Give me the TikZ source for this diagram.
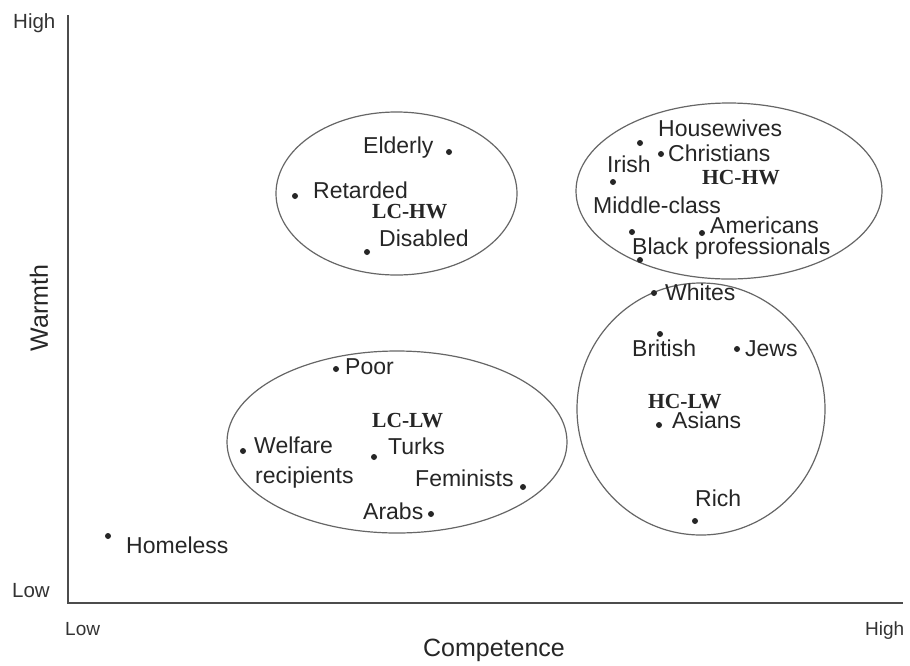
\documentclass[tikz,border=0pt]{standalone}
\usepackage{fontspec}
\setmainfont{Liberation Sans}
\newfontfamily\grpfont{Liberation Serif}
\begin{document}
\begin{tikzpicture}[x=1pt,y=-1pt,
  lbl/.style={font=\fontsize{23}{26}\selectfont, text=black!85, inner sep=0pt, text height=0.72em, text depth=0pt, anchor=west, yshift=-3pt},
  grp/.style={font=\grpfont\bfseries\fontsize{21.5}{24}\selectfont, text=black!85, inner sep=0pt, text height=0.66em, text depth=0pt, anchor=west, yshift=-3pt},
  tick/.style={font=\fontsize{20.5}{24}\selectfont, text=black!80, inner sep=0pt, text height=0.72em, text depth=0pt, anchor=west, yshift=-2pt},
  axtitle/.style={font=\fontsize{25}{28}\selectfont, text=black!85, inner sep=0pt},
  dot/.style={circle, fill=black!85, inner sep=0pt, minimum size=6pt},
  ring/.style={draw=black!60, line width=1.2pt},
  axis/.style={draw=black!70, line width=1.6pt}]
\useasboundingbox (0,0) rectangle (910,665);
\fill[white] (0,0) rectangle (910,665);

% axes
\coordinate (ytop) at (68,15);
\coordinate (origin) at (68,603);
\coordinate (xend) at (903,603);
\draw[axis] (ytop) -- (origin) -- (xend);

\node[tick] (yhigh) at (13,23) {High};
\node[tick] (ylow) at (12,592) {Low};
\node[tick, font=\fontsize{19}{22}\selectfont] (xlow) at (65,630) {Low};
\node[tick, font=\fontsize{19}{22}\selectfont] (xhigh) at (865,630) {High};
\node[axtitle] (xtitle) at (494,650) {Competence};
\node[axtitle, rotate=90] (ytitle) at (39,308) {Warmth};

% clusters
\draw[ring] (396.5,193.5) ellipse [x radius=120.5pt, y radius=81.5pt];
\draw[ring] (729,191) ellipse [x radius=153pt, y radius=88pt];
\draw[ring] (701,409) ellipse [x radius=124pt, y radius=126pt];
\draw[ring] (397,442) ellipse [x radius=170pt, y radius=91pt];

% LC-HW
\node[dot] (elderlyd) at (449,152) {};
\node[lbl] (elderly) at (363,147) {Elderly};
\node[dot] (retardedd) at (295,196) {};
\node[lbl] (retarded) at (313,192) {Retarded};
\node[grp] (lchw) at (372,212) {LC-HW};
\node[dot] (disabledd) at (367,252) {};
\node[lbl] (disabled) at (379,240) {Disabled};

% HC-HW
\node[lbl] (housewives) at (658,130) {Housewives};
\node[dot] (housewivesd) at (640,143) {};
\node[dot] (christiansd) at (661,154) {};
\node[lbl] (christians) at (668,155) {Christians};
\node[lbl] (irish) at (607,166) {Irish};
\node[dot] (irishd) at (613,182) {};
\node[grp] (hchw) at (702,178) {HC-HW};
\node[lbl] (middle) at (593,207) {Middle-class};
\node[dot] (middled) at (632,232) {};
\node[dot] (americansd) at (702,233) {};
\node[lbl] (americans) at (710,227) {Americans};
\node[lbl] (blackprof) at (632,248) {Black professionals};
\node[dot] (blackprofd) at (640,260) {};

% HC-LW
\node[dot] (whitesd) at (654,293) {};
\node[lbl] (whites) at (665,294) {Whites};
\node[dot] (britishd) at (660,334) {};
\node[lbl] (british) at (632,350) {British};
\node[dot] (jewsd) at (737,349) {};
\node[lbl] (jews) at (745,350) {Jews};
\node[grp] (hclw) at (648,402) {HC-LW};
\node[dot] (asiansd) at (659,425) {};
\node[lbl] (asians) at (672,422) {Asians};
\node[lbl] (rich) at (695,500) {Rich};
\node[dot] (richd) at (695,521) {};

% LC-LW
\node[dot] (poord) at (336,369) {};
\node[lbl] (poor) at (345,368) {Poor};
\node[grp] (lclw) at (372,421) {LC-LW};
\node[dot] (welfared) at (243,451) {};
\node[lbl] (welfare) at (254,447) {Welfare};
\node[lbl] (recipients) at (255,477) {recipients};
\node[dot] (turksd) at (374,457) {};
\node[lbl] (turks) at (388,448) {Turks};
\node[lbl] (feminists) at (415,480) {Feminists};
\node[dot] (feministsd) at (523,487) {};
\node[lbl] (arabs) at (363,513) {Arabs};
\node[dot] (arabsd) at (431,514) {};

% Homeless
\node[dot] (homelessd) at (108,536) {};
\node[lbl] (homeless) at (126,547) {Homeless};
\end{tikzpicture}
\end{document}
